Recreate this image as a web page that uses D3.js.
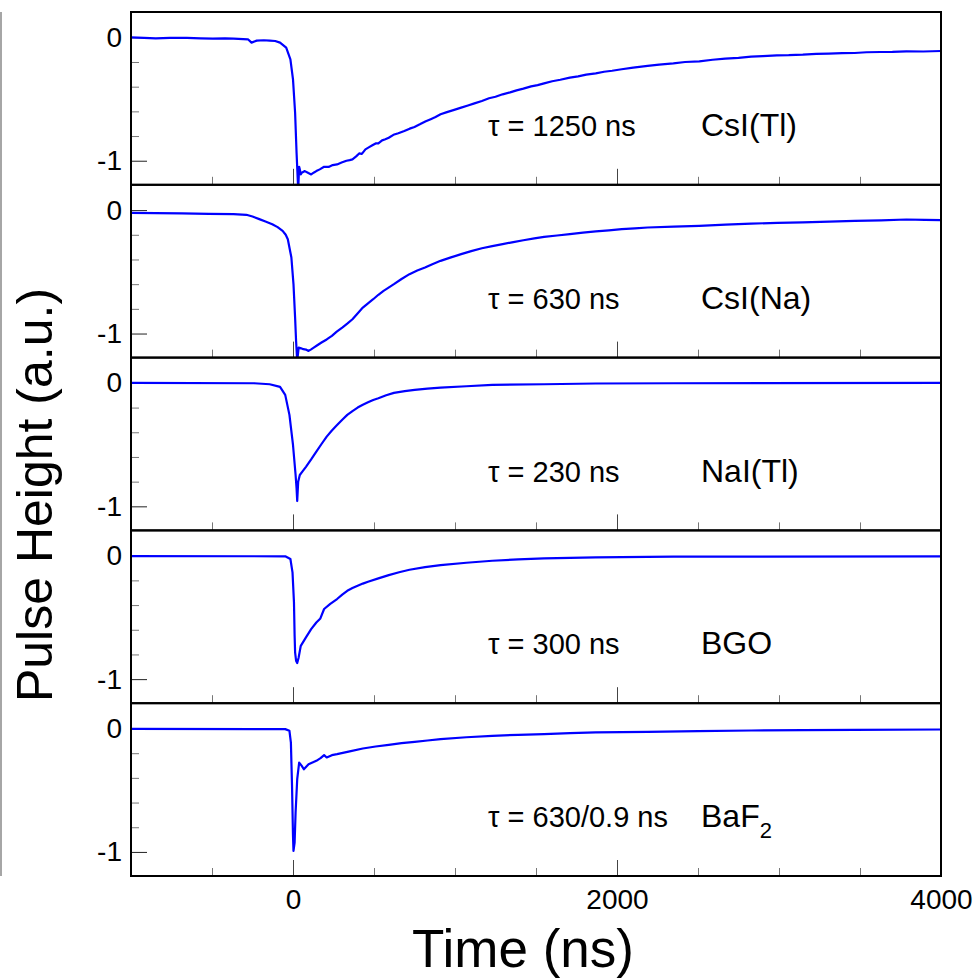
<!DOCTYPE html>
<html>
<head>
<meta charset="utf-8">
<script src="https://cdn.jsdelivr.net/npm/d3@7"></script>
<style>
  body { margin: 0; background: #fff; }
  svg { display: block; }
  text { font-family: "Liberation Sans", Arial, Helvetica, sans-serif; }
</style>
</head>
<body>
<div id="chart"></div>
<script>
// pulse shapes: [time (ns), pulse height (a.u.)]
const csiTl = [
  [-1000, 0], [-920, -0.004], [-847, -0.008], [-760, -0.004], [-655, -0.005], [-570, -0.009],
  [-495, -0.011], [-420, -0.008], [-367, -0.011], [-278, -0.016], [-256, -0.043], [-224, -0.027],
  [-180, -0.024], [-144, -0.027], [-110, -0.03], [-80, -0.043], [-42, -0.084], [-16, -0.178],
  [0, -0.341], [13, -0.611], [22, -0.935], [32, -1.232], [38, -1.05], [42, -1.07], [48, -1.11],
  [54, -1.097], [73, -1.084], [95, -1.1], [112, -1.111], [130, -1.095], [144, -1.084],
  [165, -1.07], [192, -1.049], [220, -1.05], [245, -1.035], [272, -1.03], [300, -1.015],
  [330, -1.0], [350, -0.995], [367, -0.989], [390, -0.965], [410, -0.94], [425, -0.945],
  [447, -0.908], [470, -0.89], [490, -0.875], [510, -0.86], [527, -0.859], [550, -0.835],
  [570, -0.826], [591, -0.814], [620, -0.79], [650, -0.777], [687, -0.759], [720, -0.74],
  [750, -0.726], [783, -0.705], [820, -0.68], [850, -0.663], [880, -0.645], [911, -0.624],
  [950, -0.606], [990, -0.59], [1038, -0.57], [1080, -0.552], [1120, -0.535], [1166, -0.516],
  [1210, -0.494], [1250, -0.482], [1294, -0.462], [1340, -0.446], [1380, -0.43], [1422, -0.416],
  [1470, -0.398], [1510, -0.387], [1550, -0.373], [1600, -0.356], [1650, -0.344], [1709, -0.327],
  [1760, -0.316], [1810, -0.302], [1869, -0.292], [1920, -0.279], [1970, -0.271], [2029, -0.259],
  [2100, -0.245], [2189, -0.232], [2260, -0.221], [2348, -0.211], [2420, -0.2], [2508, -0.195],
  [2590, -0.182], [2668, -0.173], [2750, -0.166], [2828, -0.157], [2900, -0.152], [2987, -0.146],
  [3060, -0.145], [3147, -0.141], [3230, -0.134], [3307, -0.132], [3390, -0.128], [3467, -0.127],
  [3540, -0.121], [3626, -0.119], [3700, -0.118], [3786, -0.114], [3890, -0.115], [4000, -0.111]
];
const csiNa = [
  [-1000, -0.022], [-850, -0.024], [-687, -0.027], [-520, -0.03], [-367, -0.033], [-288, -0.038],
  [-250, -0.052], [-208, -0.073], [-170, -0.092], [-128, -0.114], [-95, -0.138], [-64, -0.168],
  [-45, -0.2], [-32, -0.236], [-10, -0.384], [3, -0.6], [13, -0.871], [19, -1.06], [26, -1.222],
  [35, -1.114], [50, -1.12], [64, -1.127], [80, -1.13], [96, -1.141], [112, -1.128],
  [128, -1.114], [150, -1.095], [176, -1.073], [208, -1.048], [240, -1.019], [270, -0.985],
  [304, -0.952], [335, -0.92], [367, -0.884], [400, -0.835], [431, -0.79], [463, -0.755],
  [495, -0.722], [527, -0.686], [559, -0.654], [590, -0.628], [623, -0.6], [670, -0.558],
  [719, -0.519], [767, -0.49], [815, -0.465], [860, -0.438], [911, -0.411], [975, -0.383],
  [1038, -0.357], [1100, -0.332], [1166, -0.309], [1230, -0.292], [1294, -0.276], [1360, -0.259],
  [1422, -0.244], [1490, -0.229], [1550, -0.217], [1630, -0.206], [1709, -0.195], [1790, -0.183],
  [1869, -0.173], [1950, -0.164], [2029, -0.154], [2110, -0.148], [2189, -0.141], [2350, -0.134],
  [2508, -0.127], [2670, -0.117], [2828, -0.109], [2990, -0.104], [3147, -0.1], [3310, -0.093],
  [3467, -0.087], [3630, -0.083], [3786, -0.076], [3900, -0.079], [4000, -0.081]
];
const naiTl = [
  [-1000, 0], [-240, -0.003], [-144, -0.011], [-80, -0.032], [-48, -0.097], [-22, -0.259],
  [0, -0.503], [16, -0.746], [22, -0.854], [26, -0.957], [32, -0.8], [42, -0.746], [60, -0.715],
  [80, -0.68], [112, -0.62], [144, -0.557], [176, -0.495], [208, -0.435], [240, -0.385],
  [272, -0.341], [304, -0.298], [335, -0.259], [367, -0.228], [399, -0.2], [431, -0.177],
  [463, -0.157], [495, -0.138], [527, -0.124], [575, -0.1], [623, -0.081], [690, -0.067],
  [751, -0.057], [830, -0.046], [911, -0.038], [1070, -0.027], [1230, -0.016], [1550, -0.011],
  [1869, -0.005], [2348, -0.003], [4000, 0]
];
const bgo = [
  [-1000, -0.003], [-48, -0.005], [-16, -0.027], [-3, -0.135], [6, -0.378], [10, -0.649],
  [13, -0.784], [19, -0.851], [26, -0.87], [35, -0.824], [48, -0.73], [80, -0.662],
  [112, -0.595], [144, -0.541], [169, -0.508], [192, -0.432], [230, -0.39], [272, -0.351],
  [304, -0.315], [335, -0.284], [367, -0.262], [399, -0.243], [431, -0.226], [463, -0.211],
  [527, -0.184], [591, -0.157], [655, -0.134], [719, -0.114], [815, -0.093], [911, -0.076],
  [1070, -0.057], [1230, -0.041], [1390, -0.03], [1550, -0.022], [1869, -0.014], [2348, -0.008],
  [4000, -0.005]
];
const baf2 = [
  [-1000, -0.003], [-48, -0.005], [-22, -0.019], [-13, -0.114], [-6, -0.465], [0, -0.87],
  [3, -0.992], [10, -0.924], [16, -0.681], [26, -0.411], [38, -0.276], [54, -0.303],
  [67, -0.33], [96, -0.289], [120, -0.275], [144, -0.262], [170, -0.24], [192, -0.216],
  [208, -0.235], [240, -0.216], [272, -0.208], [350, -0.185], [431, -0.162], [510, -0.146],
  [591, -0.132], [670, -0.119], [751, -0.108], [830, -0.097], [911, -0.086], [1070, -0.071],
  [1230, -0.059], [1390, -0.051], [1550, -0.046], [1710, -0.038], [1869, -0.032], [2189, -0.027],
  [2500, -0.021], [2828, -0.016], [3150, -0.013], [3467, -0.011], [4000, -0.008]
];

const crystalNames = ["CsI(Tl)", "CsI(Na)", "NaI(Tl)", "BGO", "BaF"];
const tauLabels = ["τ = 1250 ns", "τ = 630 ns", "τ = 230 ns", "τ = 300 ns", "τ = 630/0.9 ns"];
const seriesList = [csiTl, csiNa, naiTl, bgo, baf2];

const xMajorTicks = [0, 2000];
const xMinorTicks = [-500, 500, 1000, 1500, 2500, 3000, 3500];
const xTickLabels = [0, 2000, 4000];
const yMajorTicks = [0, -1];
const yMinorTicks = [-0.2, -0.4, -0.6, -0.8];

function init() {
    const width = 974, height = 979;
    const left = 131, right = 941, top = 12, bottom = 876;
    const panelH = (bottom - top) / seriesList.length;

    const svg = d3.select("#chart").append("svg")
        .attr("width", width)
        .attr("height", height);

    const xScale = d3.scaleLinear().domain([-1000, 4000]).range([left, right]);

    // thin gray rule at the very left edge
    svg.append("line")
        .attr("x1", 1).attr("x2", 1)
        .attr("y1", top).attr("y2", bottom)
        .attr("stroke", "#888").attr("stroke-width", 1.5);

    seriesList.forEach((series, i) => {
        const y0 = top + i * panelH;
        const yScale = d3.scaleLinear().domain([-1.195, 0.205]).range([y0 + panelH, y0]);
        const g = svg.append("g");

        g.append("clipPath").attr("id", "clip" + i)
            .append("rect")
            .attr("x", left).attr("y", y0)
            .attr("width", right - left).attr("height", panelH);

        // y ticks, drawn inward
        const yMaj = g.append("g")
            .attr("transform", `translate(${left},0)`)
            .call(d3.axisLeft(yScale).tickValues(yMajorTicks).tickSize(-16).tickPadding(9)
                .tickFormat(d => String(d)));
        const yMin = g.append("g")
            .attr("transform", `translate(${left},0)`)
            .call(d3.axisLeft(yScale).tickValues(yMinorTicks).tickSize(-8).tickFormat(""));

        // x ticks at the bottom of every panel
        const xMaj = g.append("g")
            .attr("transform", `translate(0,${y0 + panelH})`)
            .call(d3.axisBottom(xScale).tickValues(xMajorTicks).tickSize(-16).tickFormat(""));
        const xMin = g.append("g")
            .attr("transform", `translate(0,${y0 + panelH})`)
            .call(d3.axisBottom(xScale).tickValues(xMinorTicks).tickSize(-8).tickFormat(""));

        [yMaj, yMin, xMaj, xMin].forEach(a => a.select(".domain").remove());
        yMaj.selectAll("line").attr("stroke", "#222");
        xMaj.selectAll("line").attr("stroke", "#444");
        yMin.selectAll("line").attr("stroke", "#777");
        xMin.selectAll("line").attr("stroke", "#777");
        yMaj.selectAll("text")
            .attr("font-size", 28)
            .attr("font-family", "Liberation Sans, Arial, sans-serif")
            .attr("fill", "#000");

        const line = d3.line()
            .x(d => xScale(d[0]))
            .y(d => yScale(d[1]));

        g.append("path")
            .datum(series)
            .attr("clip-path", `url(#clip${i})`)
            .attr("fill", "none")
            .attr("stroke", "#0000ff")
            .attr("stroke-width", 2.2)
            .attr("stroke-linejoin", "round")
            .attr("d", line);

        // frame
        g.append("rect")
            .attr("x", left).attr("y", y0)
            .attr("width", right - left).attr("height", panelH)
            .attr("fill", "none")
            .attr("stroke", "#000")
            .attr("stroke-width", 2);

        // labels
        g.append("text")
            .attr("x", 488).attr("y", y0 + 124)
            .attr("font-size", 29)
            .text(tauLabels[i]);
        const name = g.append("text")
            .attr("x", 701).attr("y", y0 + 124)
            .attr("font-size", 32)
            .text(crystalNames[i]);
        if (i === seriesList.length - 1) {
            name.append("tspan").attr("dy", 11).attr("font-size", 22).text("2");
        }
    });

    // x tick labels under the last panel
    const xLab = svg.append("g")
        .attr("transform", `translate(0,${bottom})`)
        .call(d3.axisBottom(xScale).tickValues(xTickLabels).tickSize(0).tickPadding(13)
            .tickFormat(d => String(d)));
    xLab.select(".domain").remove();
    xLab.selectAll("text")
        .attr("font-size", 28)
        .attr("font-family", "Liberation Sans, Arial, sans-serif")
        .attr("fill", "#000");

    // axis titles
    svg.append("text")
        .attr("x", 523).attr("y", 967)
        .attr("text-anchor", "middle")
        .attr("font-size", 53)
        .text("Time (ns)");

    svg.append("text")
        .attr("transform", "translate(52,495) rotate(-90)")
        .attr("text-anchor", "middle")
        .attr("font-size", 50)
        .text("Pulse Height (a.u.)");
}

window.addEventListener("load", init);
</script>
</body>
</html>
